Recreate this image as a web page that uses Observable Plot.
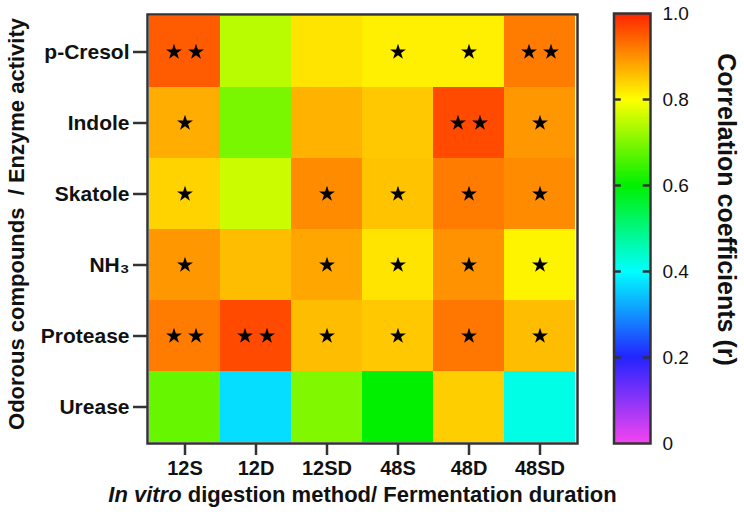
<!DOCTYPE html>
<html>
<head>
<meta charset="utf-8">
<script src="https://cdn.jsdelivr.net/npm/d3@7"></script>
<script src="https://cdn.jsdelivr.net/npm/@observablehq/plot@0.6"></script>
<style>
  body { margin: 0; background: #fff; }
  #chart { position: relative; width: 744px; height: 521px; }
  #chart svg { position: absolute; top: 0; }
</style>
</head>
<body>
<div id="chart"></div>
<script>
// Treatments (x) and measured responses (y)
const methods = ["12S", "12D", "12SD", "48S", "48D", "48SD"];
const responses = ["p-Cresol", "Indole", "Skatole", "NH\u2083", "Protease", "Urease"];

// Correlation coefficients (r), one array per response, in method order
const pCresol  = [0.95, 0.745, 0.825, 0.815, 0.815, 0.92];
const indole   = [0.875, 0.695, 0.87, 0.85, 0.965, 0.895];
const skatole  = [0.84, 0.76, 0.905, 0.855, 0.92, 0.905];
const ammonia  = [0.895, 0.86, 0.88, 0.825, 0.90, 0.81];
const protease = [0.92, 0.965, 0.86, 0.85, 0.925, 0.86];
const urease   = [0.68, 0.37, 0.70, 0.60, 0.845, 0.42];

// Significance stars per cell (0, 1 or 2)
const pCresolStars  = [2, 0, 0, 1, 1, 2];
const indoleStars   = [1, 0, 0, 0, 2, 1];
const skatoleStars  = [1, 0, 1, 1, 1, 1];
const ammoniaStars  = [1, 0, 1, 1, 1, 1];
const proteaseStars = [2, 2, 1, 1, 1, 1];
const ureaseStars   = [0, 0, 0, 0, 0, 0];

// Colour bar ticks
const barTicks = [0, 0.2, 0.4, 0.6, 0.8, 1.0];
const barInnerTicks = [0.2, 0.4, 0.6, 0.8];

const valueRows = [pCresol, indole, skatole, ammonia, protease, urease];
const starRows = [pCresolStars, indoleStars, skatoleStars, ammoniaStars, proteaseStars, ureaseStars];

const cells = [];
responses.forEach((resp, i) => methods.forEach((m, j) => {
  cells.push({method: m, response: resp, r: valueRows[i][j], stars: starRows[i][j]});
}));
const oneStar = cells.filter(d => d.stars === 1);
const twoStars = cells.filter(d => d.stars === 2);

const colorScale = {
  type: "linear",
  domain: [0, 0.2, 0.4, 0.6, 0.8, 1.0],
  range: ["#f545f0", "#2424ff", "#00ffff", "#00f000", "#ffff00", "#ff2400"]
};

const font = "'Liberation Sans', Arial, Helvetica, sans-serif";
const xTitle = "In vitro digestion method/ Fermentation duration";

const heat = Plot.plot({
  width: 744,
  height: 521,
  marginLeft: 147,
  marginRight: 167,
  marginTop: 14,
  marginBottom: 78,
  style: {fontFamily: font, fontWeight: "bold", color: "#111", background: "transparent"},
  x: {domain: methods, padding: 0, axis: null},
  y: {domain: responses, padding: 0, axis: null},
  color: colorScale,
  marks: [
    Plot.cell(cells, {x: "method", y: "response", fill: "r", inset: 0}),
    Plot.dot(oneStar, {x: "method", y: "response", symbol: "star", r: 5, fill: "#000"}),
    Plot.dot(twoStars, {x: "method", y: "response", symbol: "star", r: 5, fill: "#000", dx: -11}),
    Plot.dot(twoStars, {x: "method", y: "response", symbol: "star", r: 5, fill: "#000", dx: 11}),
    Plot.frame({stroke: "#333", strokeWidth: 2.5}),
    Plot.axisX({tickSize: 12, tickPadding: 5, strokeWidth: 2.5, stroke: "#333", fontSize: 20, label: null}),
    Plot.axisY({tickSize: 14, tickPadding: 4, strokeWidth: 2.5, stroke: "#333", fontSize: 21, label: null}),
    Plot.text([xTitle], {frameAnchor: "bottom", lineAnchor: "middle", dy: 51, fontSize: 22, fontWeight: "bold", fill: "#111"}),
    Plot.text(["Odorous compounds\u00a0 / Enzyme activity"], {frameAnchor: "left", textAnchor: "middle", lineAnchor: "middle", rotate: -90, dx: -131, dy: -5, fontSize: 22, fontWeight: "bold", fill: "#111"})
  ]
});

// Italicise the Latin phrase at the start of the x-axis title
heat.querySelectorAll("text").forEach(t => {
  if (t.textContent === xTitle) {
    t.textContent = "";
    const ns = "http://www.w3.org/2000/svg";
    const a = document.createElementNS(ns, "tspan");
    a.setAttribute("font-style", "italic");
    a.textContent = "In vitro";
    const b = document.createElementNS(ns, "tspan");
    b.textContent = " digestion method/ Fermentation duration";
    t.appendChild(a);
    t.appendChild(b);
  }
});

const bar = Plot.plot({
  width: 144,
  height: 521,
  marginLeft: 13.5,
  marginRight: 94,
  marginTop: 13,
  marginBottom: 78,
  style: {fontFamily: font, color: "#111", background: "transparent"},
  x: {domain: [0, 1], axis: null},
  y: {domain: [0, 1], axis: null},
  color: colorScale,
  marks: [
    Plot.raster({fill: (x, y) => y, x1: 0, x2: 1, y1: 0, y2: 1, width: 1, height: 400}),
    Plot.ruleY(barInnerTicks, {x1: 0, x2: 0.2, stroke: "#333", strokeWidth: 2.5}),
    Plot.ruleY(barInnerTicks, {x1: 0.8, x2: 1, stroke: "#333", strokeWidth: 2.5}),
    Plot.frame({stroke: "#333", strokeWidth: 2.5}),
    Plot.axisY({anchor: "right", ticks: barTicks, tickSize: 0, tickPadding: 12, fontSize: 19,
      tickFormat: d => d === 0 ? "0" : d3.format(".1f")(d), label: null}),
    Plot.text(["Correlation coefficients (r)"], {frameAnchor: "right", textAnchor: "middle", lineAnchor: "middle", rotate: 90, dx: 75, dy: -19, fontSize: 25, fontWeight: "bold", fill: "#111"})
  ]
});
bar.style.left = "600px";

const chart = document.getElementById("chart");
chart.appendChild(heat);
chart.appendChild(bar);
</script>
</body>
</html>
